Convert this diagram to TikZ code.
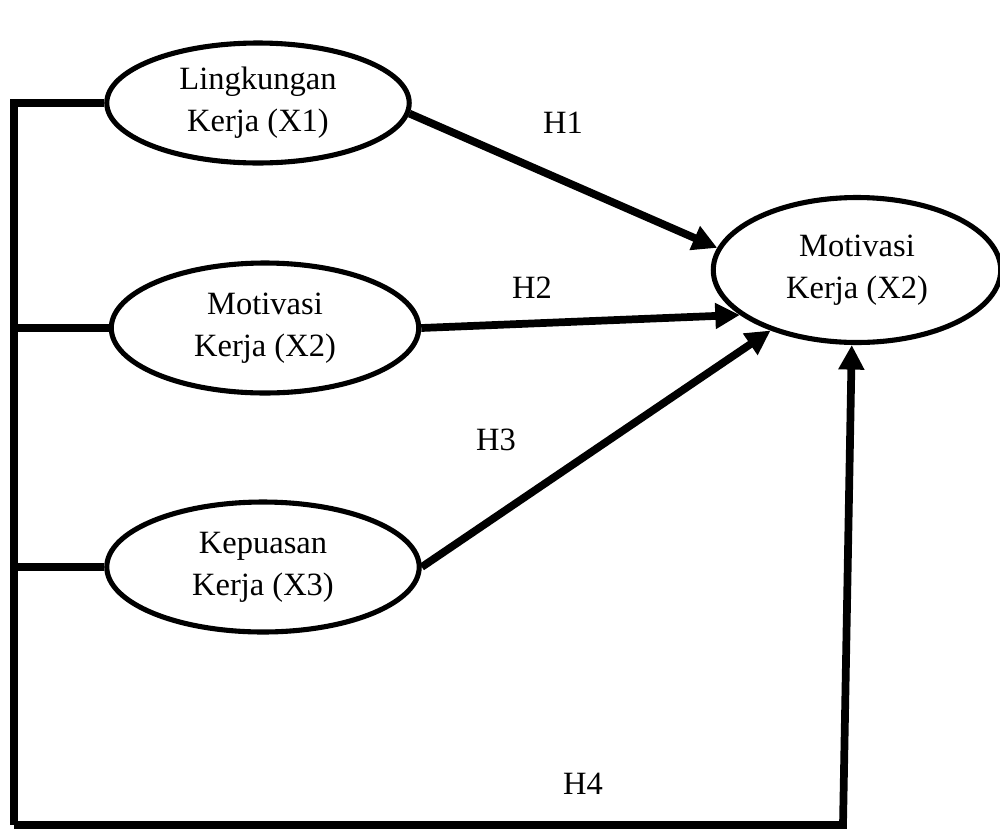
\documentclass[tikz,border=0pt]{standalone}
\usepackage{fontspec}
\setmainfont{Liberation Serif}
\usetikzlibrary{shapes.geometric,arrows.meta}
\begin{document}
\begin{tikzpicture}[x=0.02cm,y=-0.02cm,
  var/.style={draw,ellipse,line width=2.9pt,inner sep=0pt,align=center,
    font=\fontsize{18.5}{24}\selectfont},
  bar/.style={line width=4pt},
  path/.style={line width=4.4pt,-{Triangle[length=14pt,width=14pt]}},
  lab/.style={font=\fontsize{18.5}{24}\selectfont}]
\useasboundingbox (0,0) rectangle (1000,829);
\node[var,minimum width=6.05cm,minimum height=2.4cm] (e1) at (258,103) {Lingkungan\\Kerja (X1)};
\node[var,minimum width=6.15cm,minimum height=2.6cm] (e2) at (265,328) {Motivasi\\Kerja (X2)};
\node[var,minimum width=6.25cm,minimum height=2.6cm] (e3) at (263,567) {Kepuasan\\Kerja (X3)};
\node[var,minimum width=5.75cm,minimum height=2.9cm] (e4) at (857,270) {Motivasi\\Kerja (X2)};
\coordinate (tl) at (14,101);
\coordinate (bl) at (14,825);
\coordinate (br) at (843,825);
\draw[bar] (e1.west) -- (e1.west -| tl) -- (bl);
\draw[bar] (e2.west) -- (e2.west -| tl);
\draw[bar] (e3.west) -- (e3.west -| tl);
\draw[path] (bl) -- (br) -- (e4.266);
\draw[path] (e1.-4) -- (e4.171);
\draw[path] (e2.east) -- (e4.201);
\draw[path] (e3.east) -- (e4.215);
\node[lab] (h1) at (563,123) {H1};
\node[lab] (h2) at (532,288) {H2};
\node[lab] (h3) at (496,440) {H3};
\node[lab] (h4) at (583,784) {H4};
\end{tikzpicture}
\end{document}
